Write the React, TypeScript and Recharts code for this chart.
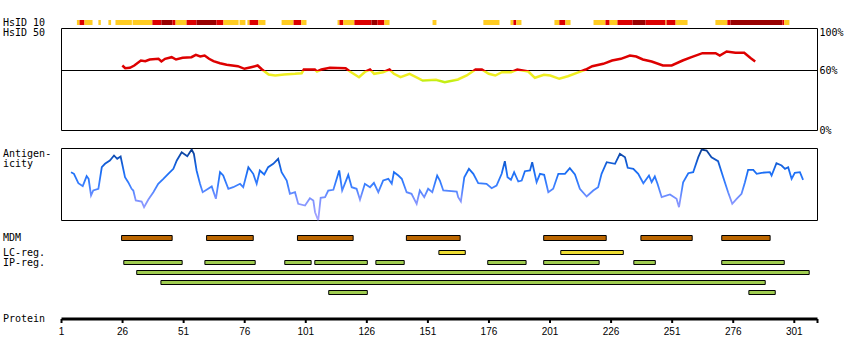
import React from 'react';
import {
  ComposedChart,
  LineChart,
  Line,
  XAxis,
  YAxis,
  ReferenceArea,
  ReferenceLine,
} from 'recharts';

// protein positions (residue numbers)
const POS_END = 310.5;
const POS_TICKS = [1, 26, 51, 76, 101, 126, 151, 176, 201, 226, 251, 276, 301, POS_END];
const PCT_TICKS = [0, 60, 100];

// HsID 10 strip: [start, end, level] level 1 = weak, 2 = medium, 3 = strong
const HSID10: [number, number, number][] = [
  [7.3, 8.4, 1], [8.4, 10.4, 2], [10.4, 13.7, 1], [16.1, 17.1, 1], [20.2, 21.3, 1],
  [23.1, 29.8, 1], [30.1, 38.2, 1], [38.2, 41.9, 2], [41.9, 46.4, 3], [46.4, 47.7, 2],
  [47.7, 52.2, 1], [52.2, 56.3, 2], [56.3, 64.4, 3], [64.4, 67.3, 2], [67.3, 73.5, 1],
  [73.9, 76.3, 1], [77.1, 78.0, 1], [78.0, 81.6, 2], [81.6, 84.5, 1], [91.1, 96.0, 1],
  [96.0, 99.2, 2], [99.2, 101.3, 1], [114.0, 114.8, 1], [114.8, 116.4, 2], [116.4, 120.9, 1],
  [120.9, 127.9, 2], [127.9, 130.3, 3], [130.3, 133.2, 2], [133.2, 135.3, 1], [152.9, 154.5, 1],
  [173.7, 180.3, 1], [184.8, 186.0, 1], [186.0, 187.2, 2], [187.2, 189.3, 1], [202.8, 204.8, 1],
  [204.8, 207.3, 2], [207.3, 209.4, 1], [218.8, 223.7, 1], [223.7, 225.4, 2], [225.4, 228.6, 1],
  [228.6, 234.8, 2], [234.8, 240.1, 3], [240.1, 248.3, 2], [248.3, 248.7, 1], [248.7, 252.4, 2],
  [252.4, 257.3, 1], [268.7, 273.6, 1], [273.6, 274.9, 2], [274.9, 296.1, 3], [296.1, 296.9, 2],
  [296.9, 299.0, 1],
];

// HsID 50 profile: [residue, percent]
const HSID50: [number, number][] = [
  [25.9, 65], [27.1, 62.3], [29, 62.7], [30.8, 65], [33.5, 70], [35.3, 69.3], [37.1, 71],
  [40.7, 71.7], [41.9, 69], [43.4, 71.7], [46.1, 73.3], [47.9, 71], [50.6, 72.7], [54.2, 73.3],
  [56, 75.7], [57.8, 74], [59.6, 75], [61.4, 71.7], [63.2, 69.3], [65.9, 67.3], [68.6, 65.7],
  [73.2, 64.3], [75.9, 61.7], [78.6, 63.3], [81.3, 65], [83.1, 61], [85.8, 56], [88.5, 55],
  [92.1, 56], [96.6, 56.7], [99.3, 57.3], [100.2, 61], [104.7, 61], [105.6, 59], [107.4, 61],
  [110.9, 62.7], [117.3, 62.3], [119.1, 59], [122.8, 53.3], [125.4, 59], [127.3, 61], [129, 56.7],
  [132.6, 58.3], [135.3, 61], [137.1, 56.7], [139.8, 53.3], [143.5, 56.7], [148.9, 50], [154.3, 50.7],
  [157.9, 48.3], [163.3, 51], [166.9, 55], [170.5, 61], [173.1, 61], [175.9, 56.7], [178.6, 55],
  [181.3, 58.3], [185, 58.3], [187.6, 61], [192.1, 59], [194.8, 52.7], [198.5, 55.7], [201.1, 55],
  [204.8, 51.7], [208.3, 54.3], [212, 57.7], [215.6, 61], [218.3, 64.3], [222.8, 66.7], [226.4, 70],
  [230, 71.7], [233.7, 75], [236.3, 74], [239, 71], [242.6, 69], [247.2, 65], [250.8, 65],
  [255.3, 70], [258.9, 73.3], [263.4, 77.3], [268.8, 77.3], [270.5, 75], [273.3, 79], [276.9, 77.7],
  [280.5, 77.7], [283.2, 72.3], [285, 69],
];

// antigenicity profile: [residue, score]
const ANTIGEN: [number, number][] = [
  [4.9, 48.3], [6.1, 46.7], [7.9, 37.3], [9.7, 34.3], [11.3, 44.3], [12.1, 41.7], [13.1, 25],
  [14, 30], [16.1, 31.7], [17.5, 53.3], [18.8, 56.7], [20.8, 60], [22.5, 65], [23.8, 61.7],
  [25.2, 64], [27, 43.3], [28.3, 38.3], [29.7, 31.7], [30.4, 30], [31.4, 20], [33.8, 19],
  [34.8, 13.3], [36.5, 20.7], [38.6, 28.3], [40.6, 36.7], [42.7, 41.7], [44.7, 46.7], [46.8, 51.7],
  [48.2, 60], [50.2, 68.3], [52.5, 64.3], [54.3, 71], [55.2, 66.7], [56.3, 50], [57.7, 36.7],
  [58.8, 28.3], [60.4, 30.7], [62.5, 34], [64.2, 21.7], [65.9, 48.3], [67.2, 45], [69.3, 31.7],
  [71.3, 33.3], [74.1, 36.7], [75.4, 33.3], [77.5, 53.3], [79.5, 46.7], [80.9, 36.7], [82.2, 50],
  [84, 46], [85.6, 53.3], [87.7, 56.7], [89.7, 61.7], [91.1, 48.3], [93.2, 40], [94.5, 26.7],
  [96.6, 28.3], [97.9, 16.7], [100.7, 15], [102.7, 22.3], [104.1, 20], [104.8, 8.3], [106.1, 0],
  [107.1, 22.7], [108.9, 23.3], [110.2, 30], [112.3, 30.7], [114.7, 50], [115.9, 30], [118.4, 45.7],
  [119.8, 33.3], [121.8, 31.7], [123.2, 20.7], [125.2, 36.7], [127.3, 33.3], [128.9, 37.7],
  [130.7, 28.3], [132.7, 40], [134.8, 41.7], [136.2, 36.7], [137.1, 48.3], [138.9, 45], [140.3, 41.7],
  [142.3, 28.3], [144.3, 26.7], [146.4, 16.7], [147.7, 30], [149.5, 23.3], [151.1, 31.7],
  [152.8, 28.3], [154.8, 45], [155.9, 40], [157.3, 30], [162.8, 29], [163.4, 23.3], [164.5, 19],
  [165.9, 43.3], [167.8, 51.7], [169.6, 46.7], [171.6, 37.3], [175, 36.7], [177.1, 32.3], [179.1, 35],
  [181.2, 46.7], [182.5, 59.3], [183.6, 43.3], [185, 40.7], [186.3, 48.3], [188, 39], [189.4, 40],
  [190.7, 49.3], [192.8, 50], [193.7, 58.3], [195.5, 38.3], [196.9, 46.7], [198.6, 45.7],
  [200.3, 28.3], [202.3, 31.7], [204.4, 46.7], [207.1, 46.7], [209.1, 52.3], [211.2, 46],
  [213.2, 31.7], [216, 24], [218.7, 30], [220.7, 33.3], [222.1, 46.7], [224.2, 58.3], [227.6, 56.7],
  [229.6, 66.7], [231.7, 63.3], [232.8, 52.7], [235.1, 51.7], [237.1, 46.7], [239.2, 37.3],
  [241.5, 45], [242.6, 38.3], [243.9, 44], [245, 36.7], [246.7, 23.3], [250.1, 26], [252.8, 21.7],
  [253.8, 13.3], [255.5, 38.3], [257.6, 47.3], [259.6, 48.3], [261.7, 63.3], [263.1, 71], [265.1, 70],
  [267.1, 63.3], [269.8, 59.3], [271.9, 43.3], [273.9, 28.3], [275.6, 16.7], [277.4, 21.7],
  [279.4, 26.7], [280.8, 38.3], [282.1, 50.7], [284.2, 50.7], [285.6, 46.7], [287.6, 47.7],
  [291, 48.3], [291.7, 45], [293.7, 57.3], [295.8, 55], [297.2, 51.7], [298.5, 53.3], [299.9, 41.7],
  [301.2, 47.7], [303.3, 48.3], [304.6, 40.7],
];

// feature regions: [start, end]
const MDM: [number, number][] = [
  [25.6, 46.3], [60.4, 79.5], [97.6, 120.4], [142.2, 164.2], [198.4, 224.0], [238.2, 259.2], [271.3, 291.1],
];
const LC_REG: [number, number][] = [[155.5, 166.3], [205.4, 231.0]];
// IP regions: [start, end, row]
const IP_REG: [number, number, number][] = [
  [26.5, 50.4, 0], [59.7, 80.3, 0], [92.4, 103.2, 0], [104.7, 126.2, 0], [129.7, 141.3, 0],
  [175.5, 191.2, 0], [198.4, 221.1, 0], [235.3, 244.1, 0], [271.3, 296.9, 0],
  [31.8, 307.1, 1],
  [41.7, 289.1, 2],
  [110.4, 126.2, 3], [282.4, 293.2, 3],
];

const W = 850;
const H = 360;
const LEFT = 61.5;
const RIGHT = 32.5;
const MONO = 'DejaVu Sans Mono';

const HSID_COLORS = ['', '#ffcc22', '#dd0000', '#990000'];

// lane layout of the feature track chart (px units, y axis reversed)
const LANE_MDM = [1, 6];
const LANE_LC = [16, 20];
const LANE_IP = [[26, 30], [36, 40], [46, 50], [56, 60]];

const hsid50Data = HSID50.map(([r, v]) => ({ r, v }));
const antigenData = ANTIGEN.map(([r, v]) => ({ r, v }));
// charts without a series still need rows for their axes
const stripData = HSID10.map(([s]) => ({ r: s }));
const trackData = [...MDM, ...LC_REG, ...IP_REG].map(([s]) => ({ r: s }));
const tickData = POS_TICKS.map((r) => ({ r }));

const layer: React.CSSProperties = { position: 'absolute', left: 0, top: 0 };

function PctTick({ x, y, payload }: any) {
  const nudge = payload.value === 100 ? 2 : 0;
  return (
    <text x={x} y={y + nudge} dy="0.355em" textAnchor="start" fontSize={10} fontFamily={MONO} fill="#000">
      {payload.value}%
    </text>
  );
}

function Labels() {
  const rows: [string, number][] = [
    ['HsID 10', 26],
    ['HsID 50', 36],
    ['Antigen-', 157],
    ['icity', 167],
    ['MDM', 241],
    ['LC-reg.', 256],
    ['IP-reg.', 266],
    ['Protein', 322],
  ];
  return (
    <svg width={W} height={H} style={layer}>
      {rows.map(([t, y]) => (
        <text key={t} x={3} y={y} fontSize={10} fontFamily={MONO} fill="#000">
          {t}
        </text>
      ))}
    </svg>
  );
}

export default function App() {
  return (
    <div style={{ position: 'absolute', left: 0, top: 0, width: W, height: H, background: '#fff' }}>
      <Labels />

      {/* HsID 10 strip */}
      <div style={layer}>
        <ComposedChart width={W} height={H} data={stripData} margin={{ top: 20, right: RIGHT, bottom: 335, left: LEFT }}>
          <XAxis type="number" dataKey="r" domain={[1, POS_END]} hide allowDataOverflow />
          <YAxis type="number" domain={[0, 1]} hide allowDataOverflow />
          {HSID10.map(([s, e, lvl], i) => (
            <ReferenceArea key={i} x1={s} x2={e} y1={0} y2={1} fill={HSID_COLORS[lvl]} fillOpacity={1} stroke="none" ifOverflow="visible" />
          ))}
        </ComposedChart>
      </div>

      {/* HsID 50 profile */}
      <div style={layer}>
        <LineChart width={W} height={H} data={hsid50Data} margin={{ top: 28.5, right: 0, bottom: 229.5, left: LEFT }}>
          <defs>
            <linearGradient id="hsid50Grad" gradientUnits="userSpaceOnUse" x1="0" y1="28.5" x2="0" y2="130.5">
              <stop offset="0" stopColor="#dd0000" />
              <stop offset="0.4118" stopColor="#dd0000" />
              <stop offset="0.4118" stopColor="#eeee22" />
              <stop offset="0.5098" stopColor="#eeee22" />
              <stop offset="0.5098" stopColor="#c4ee14" />
              <stop offset="1" stopColor="#c4ee14" />
            </linearGradient>
          </defs>
          <XAxis type="number" dataKey="r" domain={[1, POS_END]} hide allowDataOverflow />
          <YAxis
            type="number"
            orientation="right"
            domain={[0, 102]}
            ticks={PCT_TICKS}
            interval={0}
            width={RIGHT}
            axisLine={false}
            tickLine={false}
            tickSize={0}
            tickMargin={2}
            tick={<PctTick />}
            allowDataOverflow
          />
          <ReferenceArea x1={1} x2={POS_END} y1={0} y2={102} fill="none" stroke="#000" strokeWidth={1} ifOverflow="visible" />
          <ReferenceLine y={60} stroke="#000" strokeWidth={1} />
          <Line type="linear" dataKey="v" stroke="url(#hsid50Grad)" strokeWidth={2.5} dot={false} isAnimationActive={false} />
        </LineChart>
      </div>

      {/* Antigenicity profile */}
      <div style={layer}>
        <LineChart width={W} height={H} data={antigenData} margin={{ top: 148.5, right: RIGHT, bottom: 139.5, left: LEFT }}>
          <defs>
            <linearGradient id="antigenGrad" gradientUnits="userSpaceOnUse" x1="0" y1="148" x2="0" y2="221">
              <stop offset="0" stopColor="#0b3a88" />
              <stop offset="0.16" stopColor="#1156c8" />
              <stop offset="0.33" stopColor="#1a6ef5" />
              <stop offset="0.52" stopColor="#3d80ff" />
              <stop offset="0.7" stopColor="#7d92ff" />
              <stop offset="1" stopColor="#aaa6ff" />
            </linearGradient>
          </defs>
          <XAxis type="number" dataKey="r" domain={[1, POS_END]} hide allowDataOverflow />
          <YAxis type="number" domain={[0, 72]} hide allowDataOverflow />
          <ReferenceArea x1={1} x2={POS_END} y1={0} y2={72} fill="none" stroke="#000" strokeWidth={1} ifOverflow="visible" />
          <Line type="linear" dataKey="v" stroke="url(#antigenGrad)" strokeWidth={1.8} dot={false} isAnimationActive={false} />
        </LineChart>
      </div>

      {/* Feature tracks */}
      <div style={layer}>
        <ComposedChart width={W} height={H} data={trackData} margin={{ top: 234.5, right: RIGHT, bottom: 65.5, left: LEFT }}>
          <XAxis type="number" dataKey="r" domain={[1, POS_END]} hide allowDataOverflow />
          <YAxis type="number" domain={[0, 60]} reversed hide allowDataOverflow />
          {MDM.map(([s, e], i) => (
            <ReferenceArea key={'m' + i} x1={s} x2={e} y1={LANE_MDM[0]} y2={LANE_MDM[1]} fill="#bb6600" fillOpacity={1} stroke="#000" strokeWidth={1} ifOverflow="visible" />
          ))}
          {LC_REG.map(([s, e], i) => (
            <ReferenceArea key={'l' + i} x1={s} x2={e} y1={LANE_LC[0]} y2={LANE_LC[1]} fill="#eedd33" fillOpacity={1} stroke="#000" strokeWidth={1} ifOverflow="visible" />
          ))}
          {IP_REG.map(([s, e, row], i) => (
            <ReferenceArea key={'p' + i} x1={s} x2={e} y1={LANE_IP[row][0]} y2={LANE_IP[row][1]} fill="#9fcc50" fillOpacity={1} stroke="#000" strokeWidth={1} ifOverflow="visible" />
          ))}
        </ComposedChart>
      </div>

      {/* Protein position axis */}
      <div style={layer}>
        <ComposedChart width={W} height={H} data={tickData} margin={{ top: 300, right: RIGHT, bottom: 11, left: LEFT }}>
          <XAxis
            type="number"
            dataKey="r"
            domain={[1, POS_END]}
            ticks={POS_TICKS}
            interval={0}
            height={30}
            tickFormatter={(v: number) => (v === POS_END ? '' : String(v))}
            axisLine={{ stroke: '#000', strokeWidth: 3 }}
            tickLine={{ stroke: '#000', strokeWidth: 2 }}
            tickSize={4}
            tickMargin={5}
            tick={{ fill: '#000', fontSize: 10, fontFamily: 'Liberation Sans' }}
            allowDataOverflow
          />
          <YAxis type="number" domain={[0, 1]} hide />
        </ComposedChart>
      </div>
    </div>
  );
}
